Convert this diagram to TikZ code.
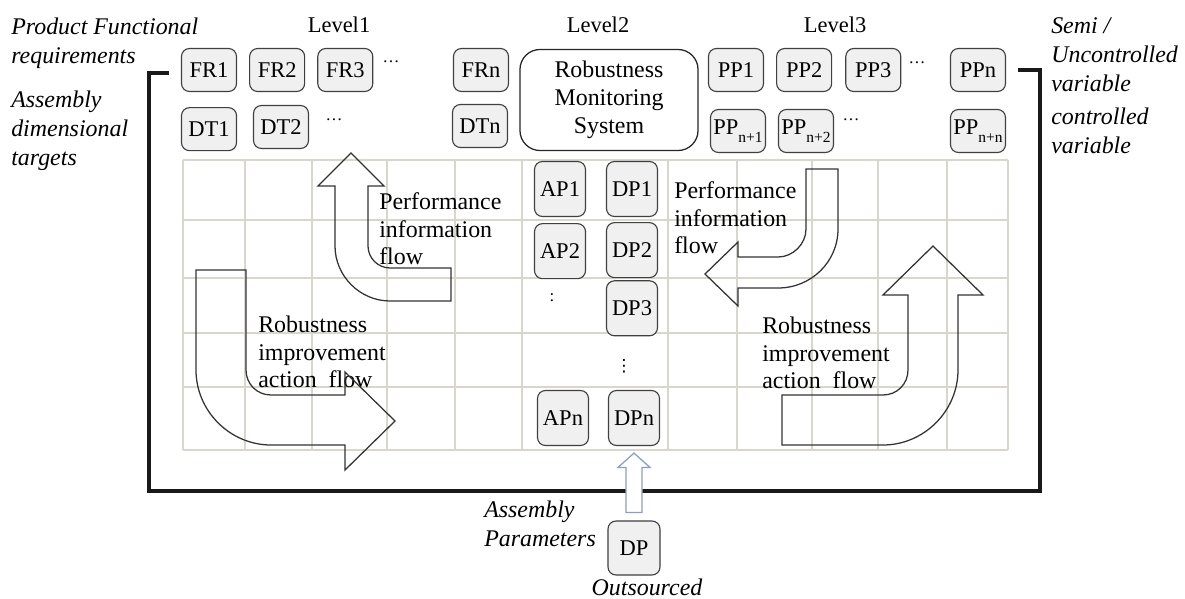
\documentclass[tikz,border=0pt]{standalone}
\usepackage{fontspec}
\setmainfont{Liberation Serif}
\newfontfamily\symfont{DejaVu Sans}
\usetikzlibrary{positioning,calc}
\definecolor{gridgray}{HTML}{D9D6CE}
\definecolor{supplyblue}{HTML}{8C9DC9}
\newcommand{\sub}[1]{\raisebox{-6pt}{\fontsize{11}{11}\selectfont #1}}
\tikzset{
  lvl/.style = {font=\fontsize{16}{19}\selectfont},
  sidetext/.style = {font=\fontsize{17}{20.5}\selectfont\itshape, align=left, anchor=west, inner sep=0pt},
  flowtext/.style = {font=\fontsize{17}{19.5}\selectfont, align=left, anchor=west, inner sep=0pt},
  parbox/.style = {draw=black!75, fill=black!6, rounded corners=0.2cm, line width=0.8pt,
    minimum width=1.375cm, minimum height=1.075cm, inner sep=0pt, font=\fontsize{16}{18}\selectfont},
  colbox/.style = {parbox, minimum width=1.275cm, minimum height=1.375cm},
  monbox/.style = {draw=black!85, fill=white, rounded corners=0.5cm, line width=0.9pt, align=center,
    minimum width=4.45cm, minimum height=2.525cm, font=\fontsize{17}{20}\selectfont},
  more/.style = {font=\fontsize{12}{12}\selectfont, inner sep=0pt},
  gridline/.style = {gridgray, line width=1pt},
  flow/.style = {draw=black!80, line width=0.9pt, line join=miter},
  bracket/.style = {line width=2.6pt, black!90},
  supply/.style = {draw=supplyblue, fill=white, line width=0.9pt}
  }

\begin{document}
\begin{tikzpicture}[x=0.025cm, y=-0.025cm]
\useasboundingbox (0,0) rectangle (1185,599);

% background grid
\foreach \x in {183,245,312,387,455,522,668,737,812,878,947,1008}
  \draw[gridline] (\x,160) -- (\x,450);
\foreach \y in {160,220,278,333,387,450}
  \draw[gridline] (183,\y) -- (1008,\y);

% levels
\node[lvl] (lvlOne) at (339,25) {Level1};
\node[lvl] (lvlTwo) at (598,25) {Level2};
\node[lvl] (lvlThree) at (835,25) {Level3};

% side labels
\node[sidetext] (pfr) at (11,43) {Product Functional\\requirements};
\node[sidetext] (adt) at (11,131) {Assembly\\dimensional\\targets};
\node[sidetext] (semi) at (1051,55) {Semi /\\Uncontrolled\\variable};
\node[sidetext] (ctrl) at (1051,131) {controlled\\variable};

% level 1
\node[parbox] (FR1) at (209,70) {FR1};
\node[parbox,right=0.3cm of FR1] (FR2) {FR2};
\node[parbox,right=0.3cm of FR2] (FR3) {FR3};
\node[more] (frdots) at (391,62) {\dots};
\node[parbox] (FRn) at (481,70) {FRn};
\node[parbox,below=0.375cm of FR1] (DT1) {DT1};
\node[parbox] (DT2) at (281,127) {DT2};
\node[more] (dtdots) at (334,120) {\dots};
\node[parbox] (DTn) at (480,126) {DTn};

% level 2
\node[monbox] (RMS) at (609,100) {Robustness\\Monitoring\\System};
\node[colbox] (AP1) at (560,189) {AP1};
\node[colbox,below=0.15cm of AP1] (AP2) {AP2};
\node[more] (apdots) at (552,298) {:};
\node[colbox] (APn) at (563,418) {APn};
\node[colbox] (DP1) at (632,189) {DP1};
\node[colbox,below=0.125cm of DP1] (DP2) {DP2};
\node[colbox,below=0.05cm of DP2] (DP3) {DP3};
\node[more] (dpdots) at (624,366) {\symfont ⋮};
\node[colbox] (DPn) at (634,418) {DPn};

% level 3
\node[parbox] (PP1) at (736,70) {PP1};
\node[parbox,right=0.3cm of PP1] (PP2) {PP2};
\node[parbox,right=0.325cm of PP2] (PP3) {PP3};
\node[more] (ppdots) at (917,63) {\dots};
\node[parbox] (PPn) at (978,70) {PPn};
\node[parbox] (PPna) at (738,131) {PP\sub{n+1}};
\node[parbox] (PPnb) at (806,131) {PP\sub{n+2}};
\node[more] (ppndots) at (851,120) {\dots};
\node[parbox] (PPnn) at (978,131) {PP\sub{n+n}};

% flow labels
\node[flowtext] (perfL) at (379,229) {Performance\\information\\flow};
\node[flowtext] (perfR) at (674,218) {Performance\\information\\flow};
\node[flowtext] (robL) at (258,352) {Robustness\\improvement\\action\ \ flow};
\node[flowtext] (robR) at (762,353) {Robustness\\improvement\\action\ \ flow};

% bent block arrows
\draw[flow] (451,268) -- (451,301) -- (390,301) .. controls (360,301) and (335,276) .. (335,246)
  -- (335,186) -- (318,186) -- (351,153) -- (384,186) -- (368,186) -- (368,246)
  .. controls (368,258) and (378,268) .. (390,268) -- cycle;
\draw[flow] (196,270) -- (246,270) -- (246,370) .. controls (246,384) and (257,395) .. (271,395)
  -- (345,395) -- (345,372) -- (395,421) -- (345,470) -- (345,445) -- (271,445)
  .. controls (230,445) and (196,411) .. (196,370) -- cycle;
\draw[flow] (806,169) -- (806,229) .. controls (806,244) and (793,257) .. (778,257)
  -- (738,257) -- (738,242) -- (705,274) -- (738,306) -- (738,288) -- (778,288)
  .. controls (811,288) and (838,262) .. (838,229) -- (838,169) -- cycle;
\draw[flow] (782,395) -- (883,395) .. controls (897,395) and (908,384) .. (908,370)
  -- (908,295) -- (883,295) -- (933,246) -- (983,295) -- (958,295) -- (958,370)
  .. controls (958,411) and (924,445) .. (883,445) -- (782,445) -- cycle;

% outer frame
\draw[bracket] ($(FR1.west)+(-12,3)$) -| (149,491) -| (1040,70) -- ($(PPn.east)+(12,0)$);

% outsourced part
\node[parbox, minimum width=1.3cm, minimum height=1.35cm] (DP) at (634,548) {DP};
\draw[supply] ($(DP.north)+(-8,-8)$) -- ++(0,-45) -- ++(-8,0) -- ($(DPn.south)+(0,7)$)
  -- ($(DP.north)+(16,-53)$) -- ++(-8,0) -- ++(0,45) -- cycle;
\node[sidetext] (asmp) at (484,524) {Assembly\\Parameters};
\node[sidetext, anchor=center] (outs) at (647,587) {Outsourced};
\end{tikzpicture}
\end{document}
